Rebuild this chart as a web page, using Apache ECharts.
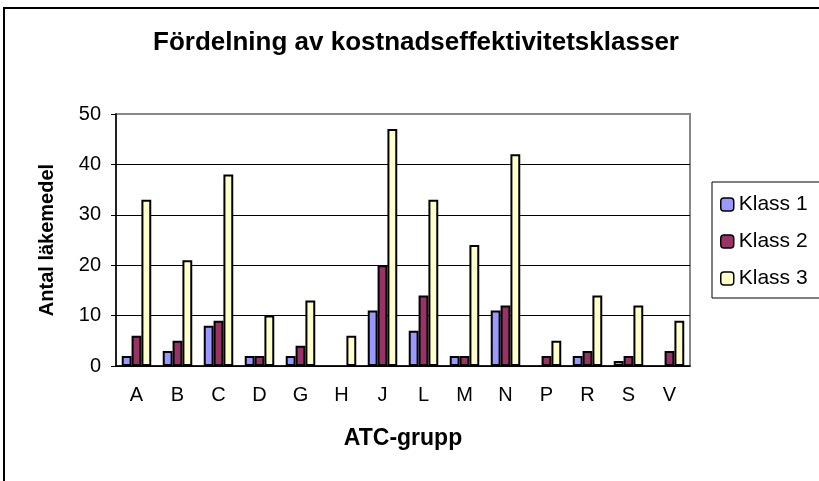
<!DOCTYPE html>
<html>
<head>
<meta charset="utf-8">
<script src="https://cdn.jsdelivr.net/npm/echarts@6/dist/echarts.min.js"></script>
<style>
  html, body { margin: 0; padding: 0; background: #fff; }
  #chart { width: 819px; height: 481px; }
</style>
</head>
<body>
<div id="chart"></div>
<script>
// ATC groups on the x axis
const groups = ['A', 'B', 'C', 'D', 'G', 'H', 'J', 'L', 'M', 'N', 'P', 'R', 'S', 'V'];
// number of drugs per class
const klass1 = [2, 3, 8, 2, 2, 0, 11, 7, 2, 11, 0, 2, 1, 0];
const klass2 = [6, 5, 9, 2, 4, 0, 20, 14, 2, 12, 2, 3, 2, 3];
const klass3 = [33, 21, 38, 10, 13, 6, 47, 33, 24, 42, 5, 14, 12, 9];
const yTicks = [0, 10, 20, 30, 40, 50];

const font = '"Liberation Sans", Arial, sans-serif';
const chart = echarts.init(document.getElementById('chart'));

// Excel leaves empty slots for zero values
const noZero = arr => arr.map(v => (v === 0 ? '-' : v));

const mkSeries = (name, data, color) => ({
  name: name,
  type: 'bar',
  data: noZero(data),
  barGap: '0%',
  barCategoryGap: '28%',
  itemStyle: { color: color, borderColor: '#000', borderWidth: 2 }
});

chart.setOption({
  animation: false,
  textStyle: { fontFamily: font, color: '#000' },
  title: {
    text: 'Fördelning av kostnadseffektivitetsklasser',
    left: 148,
    top: 25,
    textStyle: { fontFamily: font, fontSize: 26, fontWeight: 'bold', color: '#000' }
  },
  graphic: [{
    type: 'rect',
    shape: { x: 4, y: 8, width: 840, height: 500 },
    style: { fill: 'none', stroke: '#000', lineWidth: 2 },
    silent: true
  }],
  legend: {
    orient: 'vertical',
    left: 712,
    top: 182,
    padding: [12, 30, 9, 8],
    itemGap: 16,
    itemWidth: 13,
    itemHeight: 13,
    borderColor: '#000',
    borderWidth: 1,
    itemStyle: { borderColor: '#000', borderWidth: 1.5 },
    textStyle: { fontFamily: font, fontSize: 21, color: '#000' },
    data: ['Klass 1', 'Klass 2', 'Klass 3']
  },
  grid: {
    left: 116, right: 129, top: 114, bottom: 115,
    show: true, borderColor: '#888', borderWidth: 2, backgroundColor: '#fff'
  },
  xAxis: {
    type: 'category',
    data: groups,
    name: 'ATC-grupp',
    nameLocation: 'middle',
    nameGap: 61,
    nameTextStyle: { fontFamily: font, fontSize: 23, fontWeight: 'bold', color: '#000' },
    axisLine: { lineStyle: { color: '#000', width: 1.5 } },
    axisTick: { length: 6, lineStyle: { color: '#000' } },
    axisLabel: { margin: 19, fontSize: 20, color: '#000', fontFamily: font }
  },
  yAxis: {
    type: 'value',
    min: yTicks[0],
    max: yTicks[yTicks.length - 1],
    interval: 10,
    name: 'Antal läkemedel',
    nameLocation: 'middle',
    nameGap: 59,
    nameTextStyle: { fontFamily: font, fontSize: 20, fontWeight: 'bold', color: '#000' },
    axisLine: { show: true, lineStyle: { color: '#000', width: 1.5 } },
    axisTick: { show: true, length: 5, lineStyle: { color: '#000' } },
    axisLabel: { margin: 15, fontSize: 20, color: '#000', fontFamily: font },
    splitLine: { lineStyle: { color: ['#000', '#000', '#000', '#000', '#000', '#888'], width: 1 } }
  },
  series: [
    mkSeries('Klass 1', klass1, '#9999FF'),
    mkSeries('Klass 2', klass2, '#993366'),
    mkSeries('Klass 3', klass3, '#FFFFCC')
  ]
});
</script>
</body>
</html>
